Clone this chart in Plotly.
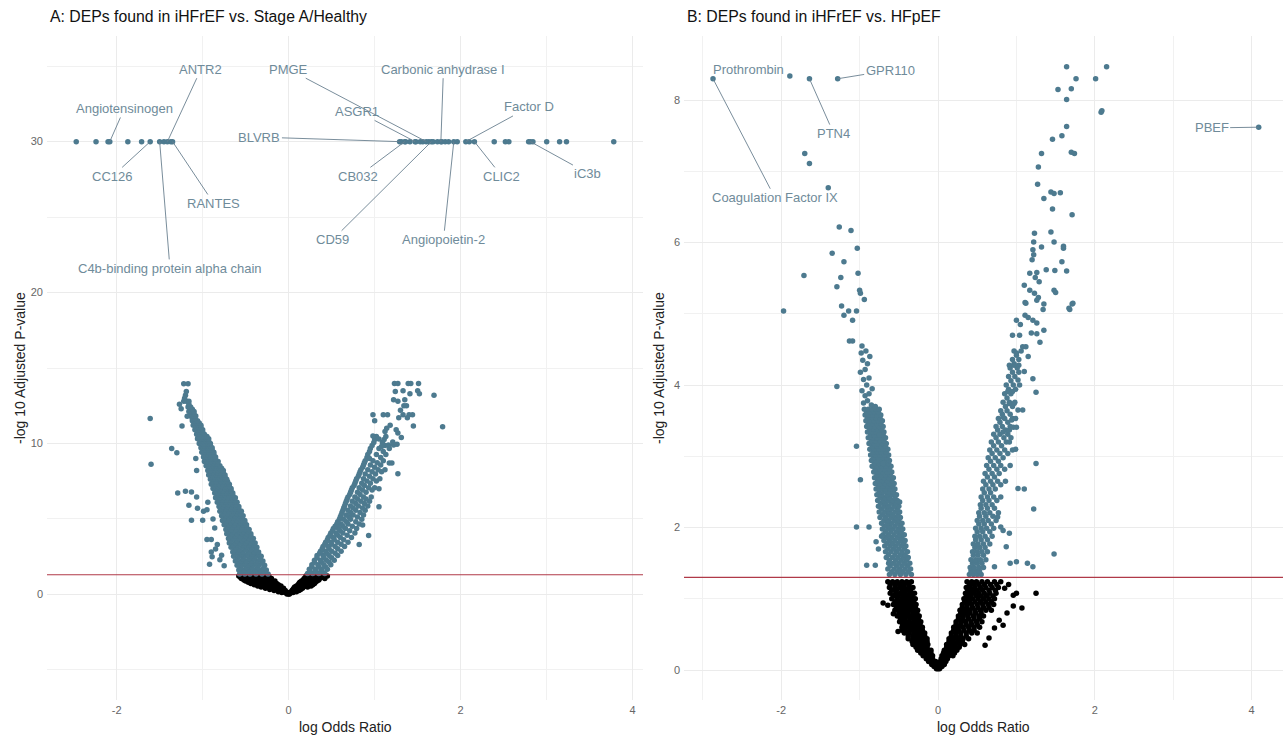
import plotly.graph_objects as go

# ---------------- DATA ----------------
# Panel A: iHFrEF vs Stage A/Healthy (log odds ratio, -log10 adj p)
A_TOP_Y = 30.0  # capped p-values
A_TOP_X = [-2.47, -2.24, -2.10, -2.08, -1.87, -1.71, -1.61, -1.50, -1.45, -1.41, -1.37, -1.35,
           1.29, 1.31, 1.35, 1.36, 1.41, 1.47, 1.48, 1.53, 1.56, 1.60, 1.63, 1.66, 1.68, 1.73,
           1.77, 1.78, 1.82, 1.86, 1.92, 1.96, 2.06, 2.10, 2.16, 2.39, 2.52, 2.56, 2.79, 2.81,
           2.84, 3.00, 3.15, 3.23, 3.78]

A_LEFT_ROWS = [
    (1.35, [-0.57, -0.51, -0.45, -0.38, -0.31, -0.24]),
    (1.48, [-0.55, -0.48, -0.41, -0.35, -0.28]),
    (1.62, [-0.58, -0.52, -0.46, -0.39, -0.33, -0.26]),
    (1.78, [-0.56, -0.49, -0.43, -0.36, -0.29]),
    (1.93, [-0.60, -0.54, -0.47, -0.41, -0.35, -0.28]),
    (2.07, [-0.58, -0.51, -0.44, -0.38, -0.31]),
    (2.21, [-0.62, -0.55, -0.49, -0.43, -0.36, -0.30]),
    (2.36, [-0.60, -0.53, -0.46, -0.40, -0.33]),
    (2.52, [-0.64, -0.57, -0.51, -0.44, -0.38, -0.32]),
    (2.66, [-0.62, -0.55, -0.48, -0.42, -0.35]),
    (2.80, [-0.65, -0.59, -0.53, -0.46, -0.40, -0.35]),
    (2.96, [-0.63, -0.57, -0.50, -0.44, -0.38]),
    (3.12, [-0.67, -0.61, -0.54, -0.48, -0.42, -0.37]),
    (3.26, [-0.65, -0.59, -0.52, -0.46, -0.40]),
    (3.41, [-0.69, -0.62, -0.56, -0.50, -0.44, -0.39]),
    (3.55, [-0.67, -0.60, -0.54, -0.48, -0.42]),
    (3.70, [-0.70, -0.64, -0.58, -0.52, -0.46, -0.41]),
    (3.86, [-0.68, -0.62, -0.56, -0.50, -0.44]),
    (4.02, [-0.72, -0.66, -0.60, -0.54, -0.48, -0.44]),
    (4.16, [-0.70, -0.64, -0.58, -0.52, -0.47]),
    (4.30, [-0.73, -0.67, -0.61, -0.56, -0.50, -0.46]),
    (4.45, [-0.71, -0.65, -0.60, -0.54, -0.49]),
    (4.61, [-0.75, -0.69, -0.63, -0.58, -0.53, -0.49]),
    (4.75, [-0.73, -0.67, -0.62, -0.56, -0.51]),
    (4.90, [-0.77, -0.71, -0.65, -0.60, -0.55, -0.51]),
    (5.05, [-0.75, -0.69, -0.64, -0.58, -0.54]),
    (5.21, [-0.78, -0.73, -0.67, -0.62, -0.57, -0.53]),
    (5.35, [-0.76, -0.71, -0.66, -0.60, -0.56]),
    (5.50, [-0.80, -0.74, -0.69, -0.64, -0.59, -0.55]),
    (5.66, [-0.78, -0.73, -0.67, -0.62, -0.58]),
    (5.82, [-0.81, -0.76, -0.71, -0.66, -0.61, -0.58]),
    (5.96, [-0.80, -0.75, -0.70, -0.65, -0.61]),
    (6.11, [-0.83, -0.78, -0.73, -0.68, -0.63, -0.60]),
    (6.25, [-0.81, -0.77, -0.72, -0.67, -0.63]),
    (6.40, [-0.85, -0.80, -0.75, -0.70, -0.66, -0.62]),
    (6.56, [-0.83, -0.78, -0.74, -0.69, -0.65]),
    (6.72, [-0.86, -0.82, -0.77, -0.72, -0.68, -0.65]),
    (6.86, [-0.85, -0.80, -0.76, -0.71, -0.67]),
    (7.01, [-0.88, -0.83, -0.79, -0.74, -0.70, -0.67]),
    (7.15, [-0.86, -0.82, -0.78, -0.73, -0.69]),
    (7.30, [-0.90, -0.85, -0.81, -0.76, -0.72, -0.69]),
    (7.46, [-0.88, -0.84, -0.79, -0.75, -0.71]),
    (7.62, [-0.91, -0.87, -0.82, -0.78, -0.74, -0.72]),
    (7.76, [-0.90, -0.86, -0.81, -0.77, -0.74]),
    (7.91, [-0.93, -0.89, -0.84, -0.80, -0.76, -0.74]),
    (8.05, [-0.92, -0.87, -0.83, -0.79, -0.76]),
    (8.20, [-0.94, -0.90, -0.86, -0.82, -0.78, -0.76]),
    (8.36, [-0.93, -0.89, -0.85, -0.81, -0.78]),
    (8.52, [-0.96, -0.92, -0.88, -0.84, -0.80]),
    (8.66, [-0.95, -0.91, -0.87, -0.83]),
    (8.81, [-0.98, -0.94, -0.90, -0.86, -0.82]),
    (8.95, [-0.97, -0.93, -0.89, -0.85]),
    (9.10, [-0.99, -0.95, -0.91, -0.88, -0.85]),
    (9.26, [-0.98, -0.94, -0.90, -0.87]),
    (9.42, [-1.01, -0.97, -0.93, -0.90, -0.87]),
    (9.56, [-1.00, -0.96, -0.92, -0.89]),
    (9.71, [-1.02, -0.99, -0.95, -0.92, -0.89]),
    (9.85, [-1.01, -0.98, -0.94, -0.91]),
    (10.00, [-1.04, -1.00, -0.97, -0.94, -0.91]),
    (10.16, [-1.03, -0.99, -0.96, -0.93]),
    (10.32, [-1.06, -1.02, -0.99, -0.96, -0.93]),
    (10.46, [-1.05, -1.01, -0.98, -0.95]),
    (10.61, [-1.07, -1.04, -1.01, -0.98]),
    (10.75, [-1.06, -1.03, -1.00]),
    (10.90, [-1.09, -1.06, -1.03, -1.00]),
    (11.05, [-1.08, -1.05, -1.02]),
    (11.21, [-1.11, -1.08, -1.05, -1.02]),
    (11.35, [-1.10, -1.07, -1.04]),
    (11.50, [-1.12, -1.09, -1.06]),
    (11.66, [-1.12, -1.09]),
    (11.82, [-1.14, -1.11, -1.08]),
    (11.96, [-1.13, -1.10]),
    (12.11, [-1.16, -1.13, -1.10]),
    (12.26, [-1.15, -1.12]),
    (12.42, [-1.17, -1.14]),
    (12.60, [-1.16]),
    (12.80, [-1.19, -1.16]),
    (13.20, [-1.20]),
    (13.45, [-1.19]),
    (13.95, [-1.22, -1.17]),
]
A_LEFT_OUT_X = [-1.61, -1.60, -1.36, -1.30, -1.24, -1.29, -1.20, -1.13, -1.07, -1.16, -1.06, -1.13,
                -1.00, -0.99, -0.95, -0.95, -0.90, -0.90, -0.89, -0.92, -1.07, -1.08, -0.85, -0.80,
                -0.75, -0.83, -1.25, -1.22, -1.18, -0.78, -0.86, -0.88, -0.94, -1.27, -1.21]
A_LEFT_OUT_Y = [11.66, 8.63, 9.67, 9.38, 11.15, 6.72, 6.83, 6.79, 6.46, 5.91, 5.70, 4.91,
                4.91, 5.50, 5.60, 3.63, 3.63, 2.80, 2.50, 2.00, 8.20, 9.00, 3.00, 2.30,
                1.90, 3.30, 12.30, 12.80, 11.80, 2.60, 4.40, 5.00, 6.10, 12.60, 13.00]

A_RIGHT_ROWS = [
    (1.38, [0.22, 0.28, 0.35, 0.42]),
    (1.52, [0.25, 0.32, 0.39]),
    (1.66, [0.24, 0.31, 0.38, 0.45]),
    (1.82, [0.27, 0.35, 0.43]),
    (1.97, [0.27, 0.34, 0.41, 0.49]),
    (2.12, [0.30, 0.38, 0.47]),
    (2.26, [0.30, 0.37, 0.44, 0.53]),
    (2.42, [0.33, 0.41, 0.50]),
    (2.57, [0.33, 0.40, 0.47, 0.57]),
    (2.72, [0.36, 0.44, 0.54]),
    (2.86, [0.37, 0.43, 0.50, 0.61]),
    (3.02, [0.39, 0.47, 0.57]),
    (3.17, [0.40, 0.46, 0.54, 0.65]),
    (3.32, [0.42, 0.50, 0.61]),
    (3.46, [0.43, 0.49, 0.57, 0.69]),
    (3.62, [0.45, 0.53, 0.64]),
    (3.77, [0.46, 0.52, 0.60, 0.73]),
    (3.92, [0.48, 0.57, 0.68]),
    (4.06, [0.49, 0.55, 0.63, 0.77]),
    (4.22, [0.51, 0.60, 0.71]),
    (4.37, [0.52, 0.58, 0.66, 0.79]),
    (4.52, [0.54, 0.63, 0.74]),
    (4.66, [0.56, 0.61, 0.69, 0.82]),
    (4.82, [0.57, 0.67, 0.78]),
    (4.97, [0.59, 0.64, 0.72, 0.85]),
    (5.12, [0.60, 0.70, 0.80]),
    (5.26, [0.61, 0.67, 0.75, 0.87]),
    (5.42, [0.62, 0.72, 0.83]),
    (5.57, [0.63, 0.69, 0.78, 0.89]),
    (5.72, [0.64, 0.75, 0.86]),
    (5.86, [0.65, 0.72, 0.81, 0.92]),
    (6.02, [0.66, 0.78, 0.88]),
    (6.17, [0.67, 0.74, 0.84, 0.94]),
    (6.32, [0.68, 0.80, 0.90]),
    (6.46, [0.69, 0.77, 0.87, 0.96]),
    (6.62, [0.71, 0.83]),
    (6.77, [0.72, 0.80, 0.90]),
    (6.92, [0.73, 0.86, 0.97]),
    (7.06, [0.74, 0.82, 0.93, 1.00]),
    (7.22, [0.76, 0.88]),
    (7.37, [0.77, 0.85, 0.95]),
    (7.52, [0.78, 0.91, 1.02]),
    (7.66, [0.79, 0.87, 0.98, 1.06]),
    (7.82, [0.81, 0.94]),
    (7.97, [0.82, 0.89, 1.01]),
    (8.12, [0.83, 0.97, 1.08]),
    (8.26, [0.84, 0.92, 1.04, 1.12]),
    (8.42, [0.86, 1.00]),
    (8.57, [0.87, 0.95, 1.07]),
    (8.72, [0.88, 1.03]),
    (8.86, [0.89, 0.98, 1.10]),
    (9.07, [0.91, 1.07]),
    (9.27, [0.92, 1.02, 1.13]),
    (9.47, [0.94, 1.10]),
    (9.66, [0.95, 1.05, 1.17]),
    (9.87, [0.97, 1.12]),
    (10.07, [0.99, 1.09]),
    (10.27, [1.00, 1.11]),
    (10.46, [1.02, 1.13]),
]
A_RIGHT_OUT_X = [1.23, 1.27, 1.39, 1.42, 1.51, 1.24, 1.33, 1.41, 1.50, 1.52, 1.69, 1.22, 1.27,
                 1.35, 1.34, 1.37, 1.30, 1.33, 1.10, 1.15, 1.28, 1.40, 1.44, 1.38, 0.98, 1.00,
                 1.79, 1.45, 1.18, 1.14, 1.25, 1.12, 1.27, 0.98, 1.05, 1.08, 1.16, 1.22, 1.26,
                 1.27, 1.17, 1.20, 0.94, 1.05, 0.93, 1.05, 0.86, 0.82, 1.31, 1.21]
A_RIGHT_OUT_Y = [13.98, 13.98, 13.98, 13.98, 13.98, 13.45, 13.50, 13.30, 13.50, 13.30, 13.20, 12.90, 12.80,
                 12.90, 12.50, 12.50, 12.20, 11.90, 11.90, 11.90, 11.70, 11.90, 11.90, 11.70, 11.90, 11.50,
                 11.10, 11.15, 11.20, 11.00, 10.90, 10.80, 10.70, 10.50, 10.30, 9.80, 9.90, 9.90, 9.95,
                 8.00, 8.70, 8.70, 9.00, 5.80, 3.90, 7.00, 4.60, 3.30, 10.40, 10.10]

A_BLACK_ROWS = [
    (1.22, [-0.58, -0.52, -0.46, -0.40, -0.34, -0.28, -0.23, 0.20, 0.26, 0.32, 0.38, 0.45]),
    (1.13, [-0.56, -0.50, -0.44, -0.38, -0.32, -0.26, 0.21, 0.27, 0.33, 0.40]),
    (1.05, [-0.55, -0.49, -0.43, -0.37, -0.31, -0.25, -0.20, 0.18, 0.24, 0.30, 0.36, 0.42]),
    (0.96, [-0.52, -0.46, -0.40, -0.34, -0.28, -0.22, 0.17, 0.23, 0.29, 0.35]),
    (0.88, [-0.50, -0.44, -0.38, -0.32, -0.26, -0.20, -0.16, 0.15, 0.21, 0.27, 0.33]),
    (0.80, [-0.47, -0.41, -0.35, -0.29, -0.23, -0.18, 0.13, 0.19, 0.25, 0.31]),
    (0.72, [-0.44, -0.38, -0.32, -0.26, -0.20, -0.14, 0.12, 0.18, 0.24, 0.30]),
    (0.64, [-0.40, -0.34, -0.28, -0.22, -0.17, -0.12, 0.11, 0.16, 0.22, 0.28]),
    (0.56, [-0.36, -0.30, -0.24, -0.18, -0.13, -0.09, 0.09, 0.14, 0.20, 0.26]),
    (0.48, [-0.32, -0.26, -0.20, -0.15, -0.10, 0.07, 0.12, 0.17, 0.22]),
    (0.40, [-0.27, -0.21, -0.15, -0.10, -0.06, 0.06, 0.11, 0.16]),
    (0.32, [-0.22, -0.17, -0.12, -0.08, 0.05, 0.09, 0.14]),
    (0.25, [-0.17, -0.12, -0.07, -0.04, 0.04, 0.08, 0.12]),
    (0.18, [-0.12, -0.08, -0.05, 0.03, 0.06, 0.09]),
    (0.12, [-0.08, -0.04, -0.01, 0.02, 0.05]),
    (0.03, [-0.02, 0.00, 0.01]),
]

# labels in panel A: (name, point x, label x, label y)
A_LABELS = [
    ("Angiotensinogen", -2.08, -1.91, 32.2),
    ("ANTR2", -1.41, -1.02, 34.8),
    ("CC126", -1.61, -2.05, 27.7),
    ("RANTES", -1.35, -0.87, 25.9),
    ("C4b-binding protein alpha chain", -1.50, -1.38, 21.6),
    ("PMGE", 1.60, 0.00, 34.8),
    ("ASGR1", 1.47, 0.80, 32.0),
    ("BLVRB", 1.29, -0.34, 30.3),
    ("Carbonic anhydrase I", 1.77, 1.80, 34.8),
    ("Factor D", 2.06, 2.80, 32.3),
    ("CB032", 1.35, 0.81, 27.7),
    ("CD59", 1.66, 0.51, 23.5),
    ("Angiopoietin-2", 1.92, 1.80, 23.5),
    ("CLIC2", 2.16, 2.48, 27.7),
    ("iC3b", 2.81, 3.48, 27.9),
]

# Panel B: iHFrEF vs HFpEF
B_LEFT_ROWS = [
    (1.34, [-0.62, -0.55, -0.48, -0.41, -0.34]),
    (1.38, [-0.59, -0.52, -0.45, -0.38]),
    (1.42, [-0.64, -0.56, -0.49, -0.42, -0.35]),
    (1.46, [-0.61, -0.53, -0.46, -0.39]),
    (1.50, [-0.63, -0.57, -0.50, -0.43, -0.36]),
    (1.54, [-0.62, -0.54, -0.47, -0.40]),
    (1.58, [-0.66, -0.58, -0.51, -0.44, -0.38]),
    (1.62, [-0.63, -0.55, -0.48, -0.42]),
    (1.66, [-0.67, -0.60, -0.53, -0.46, -0.39]),
    (1.70, [-0.64, -0.57, -0.50, -0.43]),
    (1.74, [-0.68, -0.61, -0.54, -0.47, -0.41]),
    (1.78, [-0.65, -0.58, -0.51, -0.44]),
    (1.82, [-0.69, -0.62, -0.55, -0.48, -0.42]),
    (1.86, [-0.66, -0.59, -0.52, -0.46]),
    (1.90, [-0.70, -0.63, -0.56, -0.49, -0.43]),
    (1.94, [-0.67, -0.60, -0.53, -0.47]),
    (1.98, [-0.71, -0.64, -0.58, -0.51, -0.45]),
    (2.02, [-0.68, -0.62, -0.55, -0.48]),
    (2.06, [-0.72, -0.65, -0.59, -0.52, -0.46]),
    (2.10, [-0.69, -0.63, -0.56, -0.50]),
    (2.14, [-0.74, -0.67, -0.60, -0.54, -0.48]),
    (2.18, [-0.71, -0.64, -0.58, -0.51]),
    (2.22, [-0.75, -0.68, -0.62, -0.55, -0.49]),
    (2.26, [-0.72, -0.65, -0.59, -0.52]),
    (2.30, [-0.76, -0.69, -0.63, -0.56, -0.50]),
    (2.34, [-0.73, -0.67, -0.60, -0.54]),
    (2.38, [-0.77, -0.70, -0.64, -0.58, -0.52]),
    (2.42, [-0.74, -0.68, -0.62, -0.55]),
    (2.46, [-0.78, -0.72, -0.65, -0.59, -0.53]),
    (2.50, [-0.75, -0.69, -0.63, -0.57]),
    (2.54, [-0.79, -0.73, -0.67, -0.61, -0.55]),
    (2.58, [-0.76, -0.70, -0.64, -0.58]),
    (2.62, [-0.80, -0.74, -0.68, -0.62, -0.56]),
    (2.66, [-0.77, -0.71, -0.65, -0.59]),
    (2.70, [-0.81, -0.75, -0.69, -0.63, -0.57]),
    (2.74, [-0.78, -0.72, -0.67, -0.61]),
    (2.78, [-0.82, -0.76, -0.70, -0.65, -0.59]),
    (2.82, [-0.80, -0.74, -0.68, -0.62]),
    (2.86, [-0.84, -0.78, -0.72, -0.66, -0.60]),
    (2.90, [-0.81, -0.75, -0.69, -0.63]),
    (2.94, [-0.85, -0.79, -0.73, -0.67, -0.62]),
    (2.98, [-0.82, -0.76, -0.70, -0.65]),
    (3.02, [-0.86, -0.80, -0.74, -0.68, -0.63]),
    (3.06, [-0.83, -0.77, -0.72, -0.66]),
    (3.10, [-0.87, -0.81, -0.75, -0.70, -0.64]),
    (3.14, [-0.84, -0.78, -0.73, -0.67]),
    (3.18, [-0.88, -0.82, -0.77, -0.71, -0.66]),
    (3.22, [-0.85, -0.80, -0.74, -0.69]),
    (3.26, [-0.89, -0.83, -0.78, -0.72, -0.67]),
    (3.30, [-0.86, -0.81, -0.75, -0.70]),
    (3.34, [-0.90, -0.84, -0.79, -0.74, -0.69]),
    (3.38, [-0.87, -0.82, -0.77, -0.72]),
    (3.42, [-0.91, -0.86, -0.80, -0.75, -0.70]),
    (3.46, [-0.89, -0.83, -0.78, -0.73]),
    (3.50, [-0.92, -0.87, -0.81, -0.76, -0.71]),
    (3.54, [-0.90, -0.84, -0.79, -0.74]),
    (3.58, [-0.93, -0.88, -0.83, -0.78, -0.73]),
    (3.62, [-0.91, -0.86, -0.81, -0.76]),
    (3.66, [-0.94, -0.89, -0.84, -0.79, -0.75]),
]
B_LEFT_OUT_X = [-0.95, -0.90, -0.85, -0.80, -0.93, -0.88, -0.97, -0.84, -0.91, -0.95, -0.88, -0.99,
                -0.93, -0.90, -0.96, -0.87, -0.98, -0.92, -0.97, -1.13, -1.09, -1.29, -1.04, -0.99,
                -1.04, -0.88, -0.91, -0.80, -0.49, -0.79, -0.76, -0.72, -0.75, -0.70,
                -1.23, -1.20, -1.14, -1.04, -1.09, -1.97, -1.00, -0.99, -0.94, -1.24, -1.29, -1.02,
                -1.71, -1.35, -1.20, -1.03, -1.26, -1.11, -1.40, -1.70, -1.64,
                -2.87, -1.89, -1.64, -1.28]
B_LEFT_OUT_Y = [3.75, 3.78, 3.72, 3.70, 3.85, 3.88, 3.92, 3.95, 4.00, 4.08, 4.10, 4.18,
                4.22, 4.30, 4.35, 4.40, 4.45, 4.48, 4.55, 4.62, 4.62, 3.98, 3.14, 2.67,
                2.01, 2.01, 1.47, 1.47, 2.36, 1.80, 1.70, 1.88, 3.30, 2.90,
                5.11, 4.98, 5.04, 5.04, 4.91, 5.04, 5.33, 5.29, 5.20, 5.51, 5.38, 5.57,
                5.54, 5.85, 5.73, 5.92, 6.22, 6.17, 6.77, 7.25, 7.11,
                8.30, 8.34, 8.30, 8.30]

B_RIGHT_ROWS = [
    (1.34, [0.40, 0.45, 0.50, 0.55]),
    (1.39, [0.42, 0.48, 0.53]),
    (1.44, [0.41, 0.46, 0.52, 0.58]),
    (1.50, [0.44, 0.50, 0.56]),
    (1.55, [0.42, 0.48, 0.54, 0.61]),
    (1.61, [0.45, 0.51, 0.58]),
    (1.66, [0.44, 0.50, 0.56, 0.63]),
    (1.72, [0.47, 0.53, 0.60]),
    (1.77, [0.45, 0.51, 0.58, 0.66]),
    (1.83, [0.48, 0.55, 0.63]),
    (1.88, [0.47, 0.53, 0.60, 0.69]),
    (1.94, [0.50, 0.57, 0.66]),
    (1.99, [0.48, 0.55, 0.62, 0.71]),
    (2.05, [0.52, 0.59, 0.68]),
    (2.10, [0.50, 0.57, 0.64, 0.74]),
    (2.16, [0.53, 0.61, 0.70]),
    (2.21, [0.52, 0.59, 0.66, 0.77]),
    (2.27, [0.55, 0.63, 0.72]),
    (2.32, [0.54, 0.61, 0.69]),
    (2.38, [0.57, 0.65, 0.75]),
    (2.43, [0.55, 0.63, 0.71, 0.80]),
    (2.49, [0.59, 0.67]),
    (2.54, [0.57, 0.65, 0.73]),
    (2.60, [0.61, 0.70, 0.80]),
    (2.65, [0.58, 0.67, 0.76, 0.86]),
    (2.71, [0.63, 0.72]),
    (2.76, [0.60, 0.69, 0.78]),
    (2.82, [0.65, 0.75, 0.85]),
    (2.87, [0.62, 0.71, 0.80, 0.92]),
    (2.93, [0.67, 0.77]),
    (2.98, [0.64, 0.73, 0.83]),
    (3.04, [0.69, 0.79, 0.89]),
    (3.09, [0.66, 0.75, 0.85, 0.95]),
    (3.15, [0.71, 0.81]),
    (3.20, [0.68, 0.77, 0.87]),
    (3.26, [0.74, 0.84, 0.93]),
    (3.31, [0.71, 0.79, 0.89]),
    (3.37, [0.76, 0.86]),
    (3.42, [0.74, 0.82, 0.92]),
    (3.48, [0.79, 0.89]),
    (3.53, [0.77, 0.85, 0.95]),
    (3.59, [0.82, 0.92]),
    (3.64, [0.80, 0.88]),
    (3.70, [0.86, 0.95]),
    (3.76, [0.83, 0.91, 0.98]),
    (3.82, [0.88]),
    (3.88, [0.85, 0.93]),
    (3.94, [0.90, 0.99]),
    (4.00, [0.87, 0.96, 1.04]),
    (4.06, [0.93]),
    (4.12, [0.90, 0.98]),
    (4.18, [0.95, 1.03]),
    (4.24, [0.92, 1.01]),
    (4.30, [0.97]),
    (4.36, [0.95, 1.03]),
    (4.42, [1.00]),
    (4.48, [0.97, 1.06]),
]
B_RIGHT_OUT_X = [1.27, 1.44, 1.48, 1.56, 1.35, 1.46, 1.71, 1.23, 1.44, 1.22, 1.32, 1.48, 1.60, 1.60,
                 1.21, 1.22, 1.20, 1.58, 1.64, 1.49, 1.38, 1.26, 1.17, 1.24, 1.29, 1.10, 1.17, 1.23,
                 1.28, 1.48, 1.50, 1.68, 1.72, 1.11, 1.34, 1.11, 1.00, 1.21, 1.26, 1.19, 1.26, 1.35,
                 0.95, 1.04, 1.08, 1.12, 1.03, 0.97, 0.91, 1.10, 1.21, 1.25, 1.02, 0.89, 0.95, 0.91,
                 0.97, 1.02, 1.08, 0.96, 0.83, 0.94, 0.99, 0.91, 1.00, 0.83, 0.99, 0.91, 1.25, 1.02,
                 1.10, 1.22, 1.48, 1.14, 1.21, 1.00, 0.92, 0.72, 0.87, 0.83, 0.76, 0.80, 0.91, 1.12,
                 1.26, 1.35, 1.71, 1.67, 1.05, 1.15, 1.30, 1.00, 1.15,
                 1.64, 2.15, 1.76, 2.01, 1.53, 1.70, 1.64, 2.08, 2.09, 1.64, 1.46, 1.58, 1.32, 1.70,
                 1.74, 1.28, 4.09]
B_RIGHT_OUT_Y = [6.82, 6.71, 6.69, 6.70, 6.62, 6.47, 6.39, 6.13, 6.15, 6.01, 5.94, 6.01, 5.95, 5.92,
                 5.90, 5.83, 5.76, 5.73, 5.60, 5.61, 5.62, 5.58, 5.57, 5.51, 5.45, 5.40, 5.33, 5.29,
                 5.23, 5.33, 5.30, 5.06, 5.15, 5.16, 5.06, 4.98, 4.91, 4.91, 4.87, 4.73, 4.72, 4.77,
                 4.70, 4.70, 4.54, 4.54, 4.28, 4.28, 4.28, 4.19, 4.09, 3.90, 4.07, 3.91, 3.91, 3.74,
                 3.74, 3.65, 3.65, 3.41, 3.55, 3.51, 3.53, 3.37, 3.41, 3.34, 3.10, 3.20, 2.90, 2.55,
                 2.54, 2.26, 1.63, 1.50, 1.45, 1.52, 1.50, 1.45, 1.73, 1.96, 2.15, 2.01, 1.92, 5.15,
                 5.19, 5.14, 5.14, 5.08, 4.85, 4.95, 4.60, 4.45, 4.40,
                 8.47, 8.47, 8.30, 8.30, 8.15, 8.16, 8.01, 7.83, 7.85, 7.63, 7.45, 7.50, 7.25, 7.27,
                 7.25, 7.06, 7.62]

B_BLACK_ROWS = [
    (1.24, [-0.64, -0.58, -0.52, -0.46, -0.40, -0.34, 0.37, 0.43, 0.49, 0.56, 0.63, 0.72, 0.80]),
    (1.20, [-0.61, -0.55, -0.49, -0.43, -0.37, 0.40, 0.46, 0.52, 0.59, 0.67, 0.75]),
    (1.16, [-0.62, -0.55, -0.49, -0.43, -0.37, -0.32, 0.36, 0.41, 0.47, 0.54, 0.61, 0.69, 0.77]),
    (1.12, [-0.59, -0.53, -0.46, -0.40, -0.35, 0.38, 0.44, 0.50, 0.57, 0.65, 0.73]),
    (1.08, [-0.61, -0.54, -0.48, -0.42, -0.36, -0.30, 0.35, 0.40, 0.46, 0.52, 0.59, 0.66, 0.74]),
    (1.04, [-0.57, -0.51, -0.45, -0.39, -0.33, 0.36, 0.42, 0.49, 0.55, 0.62, 0.70]),
    (1.00, [-0.59, -0.52, -0.46, -0.40, -0.34, -0.29, 0.33, 0.38, 0.44, 0.51, 0.58, 0.65, 0.72]),
    (0.96, [-0.55, -0.49, -0.43, -0.37, -0.31, 0.34, 0.40, 0.47, 0.54, 0.61, 0.68]),
    (0.92, [-0.57, -0.51, -0.45, -0.39, -0.33, -0.28, 0.31, 0.37, 0.43, 0.50, 0.57, 0.64, 0.71]),
    (0.88, [-0.53, -0.47, -0.41, -0.35, -0.29, 0.31, 0.37, 0.44, 0.51, 0.58, 0.65]),
    (0.84, [-0.55, -0.49, -0.43, -0.37, -0.31, -0.26, 0.28, 0.34, 0.40, 0.47, 0.54, 0.61, 0.68]),
    (0.80, [-0.50, -0.44, -0.38, -0.32, -0.27, 0.29, 0.35, 0.41, 0.48, 0.55]),
    (0.76, [-0.52, -0.46, -0.40, -0.34, -0.28, -0.24, 0.26, 0.32, 0.38, 0.45, 0.52, 0.58]),
    (0.72, [-0.48, -0.42, -0.36, -0.30, -0.25, 0.26, 0.32, 0.39, 0.46, 0.53]),
    (0.68, [-0.49, -0.43, -0.37, -0.31, -0.26, -0.22, 0.23, 0.29, 0.35, 0.42, 0.49, 0.56]),
    (0.64, [-0.45, -0.39, -0.33, -0.28, -0.23, 0.23, 0.29, 0.36, 0.43, 0.50]),
    (0.60, [-0.46, -0.40, -0.34, -0.29, -0.24, -0.20, 0.20, 0.26, 0.32, 0.39, 0.46, 0.53]),
    (0.56, [-0.42, -0.36, -0.30, -0.25, -0.20, 0.20, 0.26, 0.33, 0.40, 0.46]),
    (0.52, [-0.43, -0.37, -0.31, -0.26, -0.21, -0.17, 0.17, 0.23, 0.29, 0.36, 0.43, 0.50]),
    (0.48, [-0.38, -0.32, -0.27, -0.22, -0.17, 0.17, 0.23, 0.29, 0.36]),
    (0.44, [-0.38, -0.32, -0.27, -0.22, -0.18, -0.14, 0.14, 0.20, 0.26, 0.32, 0.39]),
    (0.40, [-0.33, -0.28, -0.23, -0.18, -0.14, 0.14, 0.19, 0.25, 0.31]),
    (0.36, [-0.32, -0.27, -0.22, -0.17, -0.13, 0.11, 0.16, 0.22, 0.28, 0.34]),
    (0.32, [-0.28, -0.23, -0.18, -0.14, 0.11, 0.16, 0.21, 0.27]),
    (0.28, [-0.26, -0.21, -0.16, -0.12, -0.09, 0.08, 0.13, 0.18, 0.24]),
    (0.24, [-0.22, -0.17, -0.13, -0.09, 0.07, 0.12, 0.16, 0.21]),
    (0.20, [-0.19, -0.15, -0.11, -0.07, 0.05, 0.09, 0.14, 0.19]),
    (0.16, [-0.15, -0.11, -0.07, 0.04, 0.08, 0.12]),
    (0.12, [-0.12, -0.09, -0.06, -0.03, 0.03, 0.06, 0.10]),
    (0.08, [-0.08, -0.05, -0.02, 0.02, 0.05, 0.08]),
    (0.05, [-0.05, -0.03, -0.01, 0.01, 0.03, 0.05]),
    (0.02, [-0.02, 0.00, 0.02]),
]
B_BLACK_OUT_X = [-0.70, -0.64, -0.57, -0.51, -0.46, 0.96, 1.00, 1.25, 1.07, 0.96, 0.88, 0.78, 0.83,
                 0.72, 0.85, 0.90, 0.65, 0.60]
B_BLACK_OUT_Y = [0.94, 0.91, 0.79, 0.54, 0.56, 1.05, 1.08, 1.08, 0.87, 0.90, 0.80, 0.70, 0.63,
                 0.59, 1.15, 1.20, 0.45, 0.35]

# labels in panel B: (name, point x, point y, label x, label y, draw segment)
B_LABELS = [
    ("Coagulation Factor IX", -2.87, 8.30, -2.08, 6.63, True),
    ("Prothrombin", -1.89, 8.34, -2.42, 8.43, False),
    ("PTN4", -1.64, 8.30, -1.33, 7.53, True),
    ("GPR110", -1.28, 8.30, -0.61, 8.42, True),
    ("PBEF", 4.09, 7.62, 3.49, 7.61, True),
]

THRESHOLD = 1.30  # -log10(0.05)

# ---------------- STYLE ----------------
BLUE = "#4d7a8f"
LABEL_COL = "#6f8b9a"
SEG_COL = "#6a8090"
RED = "#b03a48"
FONT = "Liberation Sans, Arial, sans-serif"
W, H = 1288, 735


def flatten(rows):
    xs, ys = [], []
    for y, row in rows:
        for x in row:
            xs.append(x)
            ys.append(y)
    return xs, ys


fig = go.Figure()


def add_pts(x, y, color, xa, ya):
    fig.add_trace(go.Scatter(x=x, y=y, mode="markers", xaxis=xa, yaxis=ya,
                             marker=dict(color=color, size=5.5, line=dict(width=0)),
                             showlegend=False, hoverinfo="x+y"))


# Panel A
ax_, ay_ = flatten(A_BLACK_ROWS)
add_pts(ax_, ay_, "black", "x", "y")
lx, ly = flatten(A_LEFT_ROWS)
add_pts(lx + A_LEFT_OUT_X, ly + A_LEFT_OUT_Y, BLUE, "x", "y")
rx, ry = flatten(A_RIGHT_ROWS)
add_pts(rx + A_RIGHT_OUT_X, ry + A_RIGHT_OUT_Y, BLUE, "x", "y")
add_pts(A_TOP_X, [A_TOP_Y] * len(A_TOP_X), BLUE, "x", "y")

# Panel B
bx, by = flatten(B_BLACK_ROWS)
add_pts(bx + B_BLACK_OUT_X, by + B_BLACK_OUT_Y, "black", "x2", "y2")
lx, ly = flatten(B_LEFT_ROWS)
add_pts(lx + B_LEFT_OUT_X, ly + B_LEFT_OUT_Y, BLUE, "x2", "y2")
rx, ry = flatten(B_RIGHT_ROWS)
add_pts(rx + B_RIGHT_OUT_X, ry + B_RIGHT_OUT_Y, BLUE, "x2", "y2")

annotations = []
for name, px, tx, ty in A_LABELS:
    annotations.append(dict(x=px, y=A_TOP_Y, xref="x", yref="y", ax=tx, ay=ty, axref="x", ayref="y",
                            text=name, showarrow=True, arrowhead=0, arrowwidth=0.9, arrowcolor=SEG_COL,
                            standoff=0, startstandoff=0,
                            font=dict(family=FONT, size=13, color=LABEL_COL)))
for name, px, py, tx, ty, seg in B_LABELS:
    if seg:
        annotations.append(dict(x=px, y=py, xref="x2", yref="y2", ax=tx, ay=ty, axref="x2", ayref="y2",
                                text=name, showarrow=True, arrowhead=0, arrowwidth=0.9, arrowcolor=SEG_COL,
                                standoff=0, startstandoff=0,
                                font=dict(family=FONT, size=13, color=LABEL_COL)))
    else:
        annotations.append(dict(x=tx, y=ty, xref="x2", yref="y2", text=name, showarrow=False,
                                font=dict(family=FONT, size=13, color=LABEL_COL)))

# titles
annotations += [
    dict(x=48 / W, y=1 - 17 / H, xref="paper", yref="paper", xanchor="left", yanchor="middle",
         text="A: DEPs found in iHFrEF vs. Stage A/Healthy", showarrow=False,
         font=dict(family=FONT, size=15.8, color="#111111")),
    dict(x=685 / W, y=1 - 17 / H, xref="paper", yref="paper", xanchor="left", yanchor="middle",
         text="B: DEPs found in iHFrEF vs. HFpEF", showarrow=False,
         font=dict(family=FONT, size=15.8, color="#111111")),
    dict(x=345 / W, y=1 - 727 / H, xref="paper", yref="paper", xanchor="center", yanchor="middle",
         text="log Odds Ratio", showarrow=False, font=dict(family=FONT, size=14, color="#222222")),
    dict(x=983 / W, y=1 - 727 / H, xref="paper", yref="paper", xanchor="center", yanchor="middle",
         text="log Odds Ratio", showarrow=False, font=dict(family=FONT, size=14, color="#222222")),
    dict(x=20 / W, y=1 - 368 / H, xref="paper", yref="paper", xanchor="center", yanchor="middle",
         text="-log 10 Adjusted P-value", textangle=-90, showarrow=False,
         font=dict(family=FONT, size=14, color="#222222")),
    dict(x=659 / W, y=1 - 368 / H, xref="paper", yref="paper", xanchor="center", yanchor="middle",
         text="-log 10 Adjusted P-value", textangle=-90, showarrow=False,
         font=dict(family=FONT, size=14, color="#222222")),
]

shapes = [
    dict(type="line", xref="x domain", yref="y", x0=0, x1=1, y0=THRESHOLD, y1=THRESHOLD,
         line=dict(color=RED, width=1.2), layer="above"),
    dict(type="line", xref="x2 domain", yref="y2", x0=0, x1=1, y0=THRESHOLD, y1=THRESHOLD,
         line=dict(color=RED, width=1.2), layer="above"),
]

GRID = "#ebebeb"
MINOR_GRID = "#f1f1f1"
tickfont = dict(family=FONT, size=11, color="#666666")


def axis(domain, rng, tickvals, minor_dtick, minor_tick0, anchor, standoff):
    return dict(domain=domain, range=rng, tickvals=tickvals, ticktext=[str(v) for v in tickvals],
                showgrid=True, gridcolor=GRID, gridwidth=1, zeroline=False, showline=False,
                ticks="", tickfont=tickfont, anchor=anchor, fixedrange=True,
                ticklabelstandoff=standoff,
                minor=dict(showgrid=True, gridcolor=MINOR_GRID, gridwidth=0.8, dtick=minor_dtick,
                           tick0=minor_tick0))


ydom = [(H - 700) / H, (H - 36) / H]
fig.update_layout(
    width=W, height=H,
    margin=dict(l=0, r=0, t=0, b=0, autoexpand=False),
    paper_bgcolor="white", plot_bgcolor="white",
    xaxis=axis([47 / W, 643 / W], [-2.81, 4.12], [-2, 0, 2, 4], 1, 1, "y", 2),
    yaxis=axis(ydom, [-7, 37], [0, 10, 20, 30], 5, -5, "x", 3),
    xaxis2=axis([684 / W, 1283 / W], [-3.24, 4.40], [-2, 0, 2, 4], 1, 1, "y2", 2),
    yaxis2=axis(ydom, [-0.42, 8.9], [0, 2, 4, 6, 8], 1, 1, "x2", 3),
    annotations=annotations,
    shapes=shapes,
    font=dict(family=FONT),
)

fig.write_html("out.html", config={"displayModeBar": False},
               post_script="document.body.style.margin='0';document.body.style.overflow='hidden';")
